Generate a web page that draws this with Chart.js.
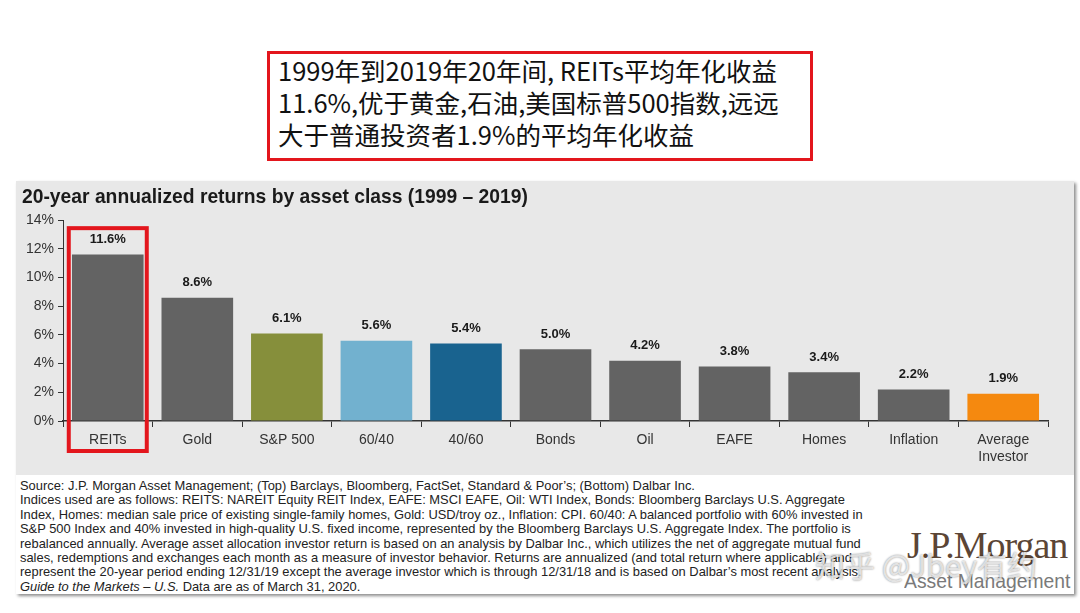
<!DOCTYPE html>
<html>
<head>
<meta charset="utf-8">
<script src="https://cdn.jsdelivr.net/npm/chart.js@4.4.1/dist/chart.umd.min.js"></script>
<style>
    html, body {
        margin: 0;
        padding: 0;
        background: #ffffff;
    }
    body {
        width: 1080px;
        height: 613px;
        position: relative;
        overflow: hidden;
        font-family: "Liberation Sans", Arial, sans-serif;
    }
    .headline {
        position: absolute;
        left: 267px;
        top: 51px;
        width: 532px;
        height: 104px;
        border: 3px solid #e3161d;
        padding: 0 0 0 8px;
        box-sizing: content-box;
        font-family: "Noto Sans CJK SC", sans-serif;
        font-size: 25.5px;
        line-height: 32px;
        color: #111;
    }
    .headline div {
        white-space: nowrap;
    }
    .panel {
        position: absolute;
        left: 16px;
        top: 181px;
        width: 1058px;
        height: 413px;
        background: #ffffff;
        box-shadow: 2px 2px 3px rgba(0, 0, 0, 0.45);
    }
    .chart-wrap {
        position: absolute;
        left: 0;
        top: 0;
        width: 1058px;
        height: 294px;
        background: #e8e8e8;
    }
    .notes {
        position: absolute;
        left: 4px;
        top: 298px;
        font-family: "Liberation Sans", Arial, sans-serif;
        font-size: 12.9px;
        line-height: 14.4px;
        color: #222;
        white-space: nowrap;
    }
    .logo {
        position: absolute;
        left: 891px;
        top: 344px;
        color: #5b4535;
        font-family: "Liberation Serif", "DejaVu Serif", serif;
        font-size: 38px;
        line-height: 40px;
        letter-spacing: -1px;
        white-space: nowrap;
    }
    .logo-sub {
        position: absolute;
        left: 888px;
        top: 389px;
        color: #7a7a7a;
        font-family: "Liberation Sans", sans-serif;
        font-size: 21px;
        line-height: 22px;
        white-space: nowrap;
        transform: scaleX(0.92);
        transform-origin: left top;
    }
    .watermark {
        position: absolute;
        left: 799px;
        top: 366px;
        font-family: "Noto Sans CJK SC", sans-serif;
        font-size: 30px;
        line-height: 34px;
        color: rgba(255, 255, 255, 0.7);
        text-shadow: 0 0 2px rgba(0, 0, 0, 0.5);
        white-space: nowrap;
    }
</style>
</head>
<body>

<div class="headline">
    <div>1999年到2019年20年间, REITs平均年化收益</div>
    <div>11.6%,优于黄金,石油,美国标普500指数,远远</div>
    <div>大于普通投资者1.9%的平均年化收益</div>
</div>

<div class="panel">
    <div class="chart-wrap">
        <canvas id="myChart"></canvas>
    </div>
    <div class="notes">
        <div>Source: J.P. Morgan Asset Management; (Top) Barclays, Bloomberg, FactSet, Standard &amp; Poor’s; (Bottom) Dalbar Inc.</div>
        <div>Indices used are as follows: REITS: NAREIT Equity REIT Index, EAFE: MSCI EAFE, Oil: WTI Index, Bonds: Bloomberg Barclays U.S. Aggregate</div>
        <div>Index, Homes: median sale price of existing single-family homes, Gold: USD/troy oz., Inflation: CPI. 60/40: A balanced portfolio with 60% invested in</div>
        <div>S&amp;P 500 Index and 40% invested in high-quality U.S. fixed income, represented by the Bloomberg Barclays U.S. Aggregate Index. The portfolio is</div>
        <div>rebalanced annually. Average asset allocation investor return is based on an analysis by Dalbar Inc., which utilizes the net of aggregate mutual fund</div>
        <div>sales, redemptions and exchanges each month as a measure of investor behavior. Returns are annualized (and total return where applicable) and</div>
        <div>represent the 20-year period ending 12/31/19 except the average investor which is through 12/31/18 and is based on Dalbar’s most recent analysis.</div>
        <div><i>Guide to the Markets – U.S.</i> Data are as of March 31, 2020.</div>
    </div>
    <div class="logo">J.P.Morgan</div>
    <div class="logo-sub">Asset Management</div>
    <div class="watermark">知乎 @Jbey有约</div>
</div>

<script>
    const categories = ['REITs', 'Gold', 'S&P 500', '60/40', '40/60', 'Bonds', 'Oil', 'EAFE', 'Homes', 'Inflation', ['Average', 'Investor']];
    const returns = [11.6, 8.6, 6.1, 5.6, 5.4, 5.0, 4.2, 3.8, 3.4, 2.2, 1.9];
    const barColors = ['#636363', '#636363', '#868f3b', '#72b1cf', '#19638f', '#636363', '#636363', '#636363', '#636363', '#636363', '#f5890f'];
    const yTicks = [0, 2, 4, 6, 8, 10, 12, 14];

    // labels above bars
    const valueLabels = {
        id: 'valueLabels',
        afterDatasetsDraw(chart) {
            const ctx = chart.ctx;
            const meta = chart.getDatasetMeta(0);
            ctx.save();
            ctx.font = 'bold 13px "Liberation Sans", Arial, sans-serif';
            ctx.fillStyle = '#1a1a1a';
            ctx.textAlign = 'center';
            ctx.textBaseline = 'middle';
            meta.data.forEach((bar, i) => {
                ctx.fillText(returns[i].toFixed(1) + '%', bar.x, bar.y - 15);
            });
            ctx.restore();
        }
    };

    // red frame round the REITs column
    const highlightBox = {
        id: 'highlightBox',
        afterDraw(chart) {
            const ctx = chart.ctx;
            const x = chart.scales.x.getPixelForValue(0);
            const area = chart.chartArea;
            ctx.save();
            ctx.strokeStyle = '#e3161d';
            ctx.lineWidth = 4;
            ctx.strokeRect(x - 39, area.top + 8, 78, area.bottom - area.top + 22);
            ctx.restore();
        }
    };

    const config = {
        type: 'bar',
        data: {
            labels: categories,
            datasets: [{
                data: returns,
                backgroundColor: barColors,
                borderWidth: 0,
                barPercentage: 0.8,
                categoryPercentage: 1
            }]
        },
        options: {
            responsive: false,
            animation: false,
            devicePixelRatio: 1,
            layout: {
                padding: {left: 6, right: 26, top: 0, bottom: 0}
            },
            plugins: {
                legend: {display: false},
                tooltip: {enabled: false},
                title: {
                    display: true,
                    text: '20-year annualized returns by asset class (1999 – 2019)',
                    align: 'start',
                    color: '#1a1a1a',
                    font: {family: '"Liberation Sans", Arial, sans-serif', size: 19.3, weight: 'bold'},
                    padding: {top: 5, bottom: 11}
                }
            },
            scales: {
                x: {
                    grid: {
                        display: true,
                        drawOnChartArea: false,
                        drawTicks: true,
                        tickLength: 6,
                        color: '#333333',
                        offset: true
                    },
                    border: {display: true, color: '#333333', width: 1.5},
                    ticks: {
                        color: '#333333',
                        font: {family: '"Liberation Sans", Arial, sans-serif', size: 14},
                        padding: 5,
                        maxRotation: 0,
                        autoSkip: false
                    },
                    afterFit(scale) {
                        scale.height = 54;
                    }
                },
                y: {
                    min: 0,
                    max: 14,
                    afterBuildTicks(scale) {
                        scale.ticks = yTicks.map(v => ({value: v}));
                    },
                    grid: {
                        display: true,
                        drawOnChartArea: false,
                        drawTicks: true,
                        tickLength: 5,
                        color: '#333333'
                    },
                    border: {display: true, color: '#333333', width: 1},
                    ticks: {
                        color: '#333333',
                        font: {family: '"Liberation Sans", Arial, sans-serif', size: 14},
                        padding: 4,
                        callback: value => value + '%'
                    },
                    afterFit(scale) {
                        scale.width = 41;
                    }
                }
            }
        },
        plugins: [valueLabels, highlightBox]
    };

    const canvas = document.getElementById('myChart');
    canvas.width = 1058;
    canvas.height = 294;
    new Chart(canvas, config);
</script>
</body>
</html>
